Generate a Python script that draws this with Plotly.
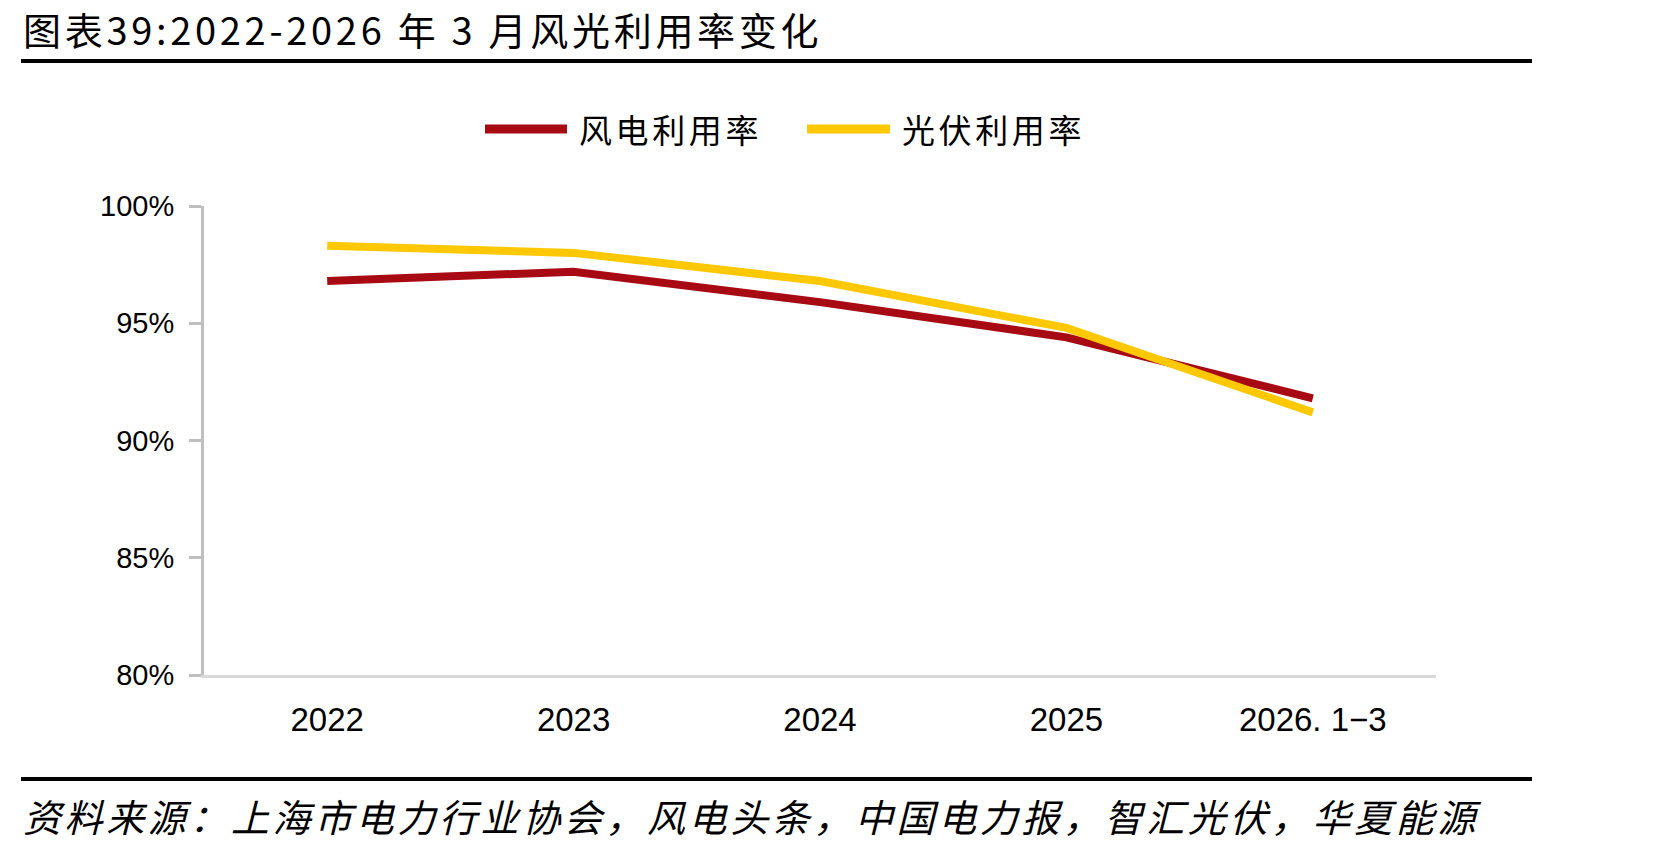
import plotly.graph_objects as go

categories = ["2022", "2023", "2024", "2025", "2026.1-3"]
tick_labels = ["2022", "2023", "2024", "2025", "2026. 1−3"]
wind_rate = [96.8, 97.2, 95.9, 94.4, 91.8]
solar_rate = [98.3, 98.0, 96.8, 94.8, 91.2]
series_names = ["风电利用率", "光伏利用率"]
series_colors = ["#A80A14", "#FFC800"]
y_ticks = [80, 85, 90, 95, 100]
y_tick_text = ["80%", "85%", "90%", "95%", "100%"]

title_text = "图表39:2022-2026 年 3 月风光利用率变化"
source_text = "资料来源：上海市电力行业协会，风电头条，中国电力报，智汇光伏，华夏能源"

W, H = 1671, 850
L, R, T, B = 204, 1436, 206, 675


def px(x):
    return (x - L) / (R - L)


def py(y):
    return (B - y) / (B - T)


def spaced(text, sp):
    return '<span style="letter-spacing:%spx">%s</span>' % (sp, text)


fig = go.Figure()
for name, vals, col in zip(series_names, [wind_rate, solar_rate], series_colors):
    fig.add_trace(go.Scatter(
        x=categories, y=vals, mode="lines", name=name,
        line=dict(color=col, width=8), showlegend=False,
    ))

cjk = "Noto Sans CJK SC"
shapes = [
    dict(type="line", xref="paper", yref="paper", x0=px(21), x1=px(1532), y0=py(61), y1=py(61),
         line=dict(color="black", width=4)),
    dict(type="line", xref="paper", yref="paper", x0=px(21), x1=px(1532), y0=py(779), y1=py(779),
         line=dict(color="black", width=4)),
]
annotations = [
    dict(text=spaced(title_text, 3.7), xref="paper", yref="paper", x=px(21), y=py(28), xanchor="left",
         yanchor="middle", showarrow=False, font=dict(family=cjk, size=38, color="black")),
    dict(text=spaced(source_text, 3.6), xref="paper", yref="paper", x=px(21), y=py(815), xanchor="left",
         yanchor="middle", showarrow=False, font=dict(family=cjk, size=38, color="black", style="italic")),
]
legend_items = [(485, 567, 577), (807, 890, 900)]
for (x0, x1, tx), name, col in zip(legend_items, series_names, series_colors):
    shapes.append(dict(type="line", xref="paper", yref="paper", x0=px(x0), x1=px(x1), y0=py(129), y1=py(129),
                       line=dict(color=col, width=9)))
    annotations.append(dict(text=spaced(name, 3.6), xref="paper", yref="paper", x=px(tx), y=py(129),
                            xanchor="left", yanchor="middle", showarrow=False,
                            font=dict(family=cjk, size=33, color="black")))

fig.update_layout(
    width=W, height=H,
    margin=dict(l=L, r=W - R, t=T, b=H - B, autoexpand=False),
    paper_bgcolor="white", plot_bgcolor="white",
    shapes=shapes, annotations=annotations,
    xaxis=dict(
        type="category", range=[-0.5, 4.5], tickvals=categories, ticktext=tick_labels,
        showgrid=False, zeroline=False, showline=True, linecolor="#D9D9D9", linewidth=3,
        ticks="", ticklabelstandoff=13,
        tickfont=dict(family="Liberation Sans", size=33, color="black"),
    ),
    yaxis=dict(
        range=[80, 100], tickvals=y_ticks, ticktext=y_tick_text,
        showgrid=False, zeroline=False, showline=True, linecolor="#BFBFBF", linewidth=3,
        ticks="outside", ticklen=12, tickwidth=3, tickcolor="#BFBFBF", ticklabelstandoff=9,
        tickfont=dict(family="Liberation Sans", size=29, color="black"),
    ),
)

fig.write_html("out.html")
